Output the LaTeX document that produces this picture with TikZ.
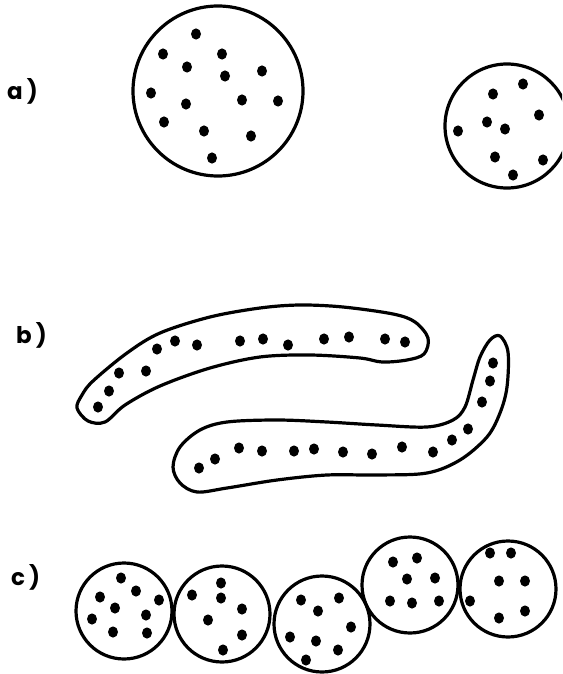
\documentclass[tikz,border=0pt]{standalone}
\usepackage{fontspec}
\newfontfamily\sketchfont{Poppins}
\tikzset{
    sketch/outline/.style={
        draw=black, line width=3.2pt, line join=round
    },
    sketch/dot/.style={
        fill=black
    },
    sketch/label/.style={
        font=\sketchfont\bfseries\fontsize{23}{23}\selectfont,
        inner sep=0pt, anchor=base west
    }
}

\begin{document}
\begin{tikzpicture}[x=1pt, y=-1pt]
    \useasboundingbox (0,0) rectangle (562,674);
    \clip (0,0) rectangle (562,674);

    \node[sketch/label] (labela) at (7,100) {a\hspace{4pt})};
    \node[sketch/label] (labelb) at (16,343) {b\hspace{4pt})};
    \node[sketch/label] (labelc) at (11,585) {c\hspace{4pt})};

    % a) two round cells
    \draw[sketch/outline] (218,91) circle[radius=85pt];
    \draw[sketch/outline] (507,126) circle[radius=62pt];
    \foreach \x/\y in {196/34, 163/54, 222/54, 187/67, 225/76, 262/71,
        151/93, 186/104, 242/100, 278/101, 164/122, 204/131, 251/136,
        212/158, 523/84, 493/94, 539/115, 487/122, 505/129, 458/131,
        495/157, 543/160, 513/175}
        \fill[sketch/dot] (\x,\y) ellipse[x radius=5pt, y radius=5.6pt];

    % b) two long cells
    \draw[sketch/outline] plot[smooth cycle, tension=0.55] coordinates {
        (77,408) (82,395) (93,381) (127,353) (160,333) (210,317)
        (260,308) (300,305) (343,307) (393,314) (415,322) (428,338)
        (424,354) (407,360) (382,362) (360,358) (310,355) (260,357)
        (210,368) (160,386) (125,405) (105,422) (88,421)};
    \draw[sketch/outline] plot[smooth cycle, tension=0.55] coordinates {
        (500,336) (508,352) (507,387) (500,413) (487,437) (460,460)
        (427,473) (377,475) (327,475) (277,480) (227,488) (197,492)
        (180,483) (173,467) (180,447) (200,430) (227,422) (277,420)
        (327,422) (377,425) (427,427) (453,420) (465,407) (473,380)
        (480,357) (490,340)};
    \foreach \x/\y in {98/407, 109/391, 119/373, 146/371, 157/349,
        175/341, 197/345, 240/341, 263/339, 288/345, 324/339, 349/337,
        385/339, 405/342, 493/363, 490/381, 482/402, 468/429, 452/440,
        433/452, 402/447, 372/454, 343/452, 314/449, 294/451, 262/451,
        239/448, 215/459, 199/468}
        \fill[sketch/dot] (\x,\y) ellipse[x radius=5pt, y radius=5.6pt];

    % c) chain of cells
    \foreach \x/\y in {124/611, 222/614, 322/624, 410/585, 508/589}
        \draw[sketch/outline] (\x,\y) circle[radius=48pt];
    \foreach \x/\y in {121/578, 136/591, 100/597, 159/600, 115/608,
        146/615, 92/619, 113/632, 147/633, 221/583, 192/595, 221/598,
        242/609, 208/620, 242/635, 223/650, 301/600, 339/598, 318/611,
        351/627, 290/637, 316/641, 338/650, 306/660, 393/562, 417/558,
        407/579, 435/578, 390/601, 412/603, 439/601, 490/553, 511/553,
        499/581, 525/581, 470/601, 499/618, 525/611}
        \fill[sketch/dot] (\x,\y) ellipse[x radius=5pt, y radius=5.6pt];
\end{tikzpicture}
\end{document}
